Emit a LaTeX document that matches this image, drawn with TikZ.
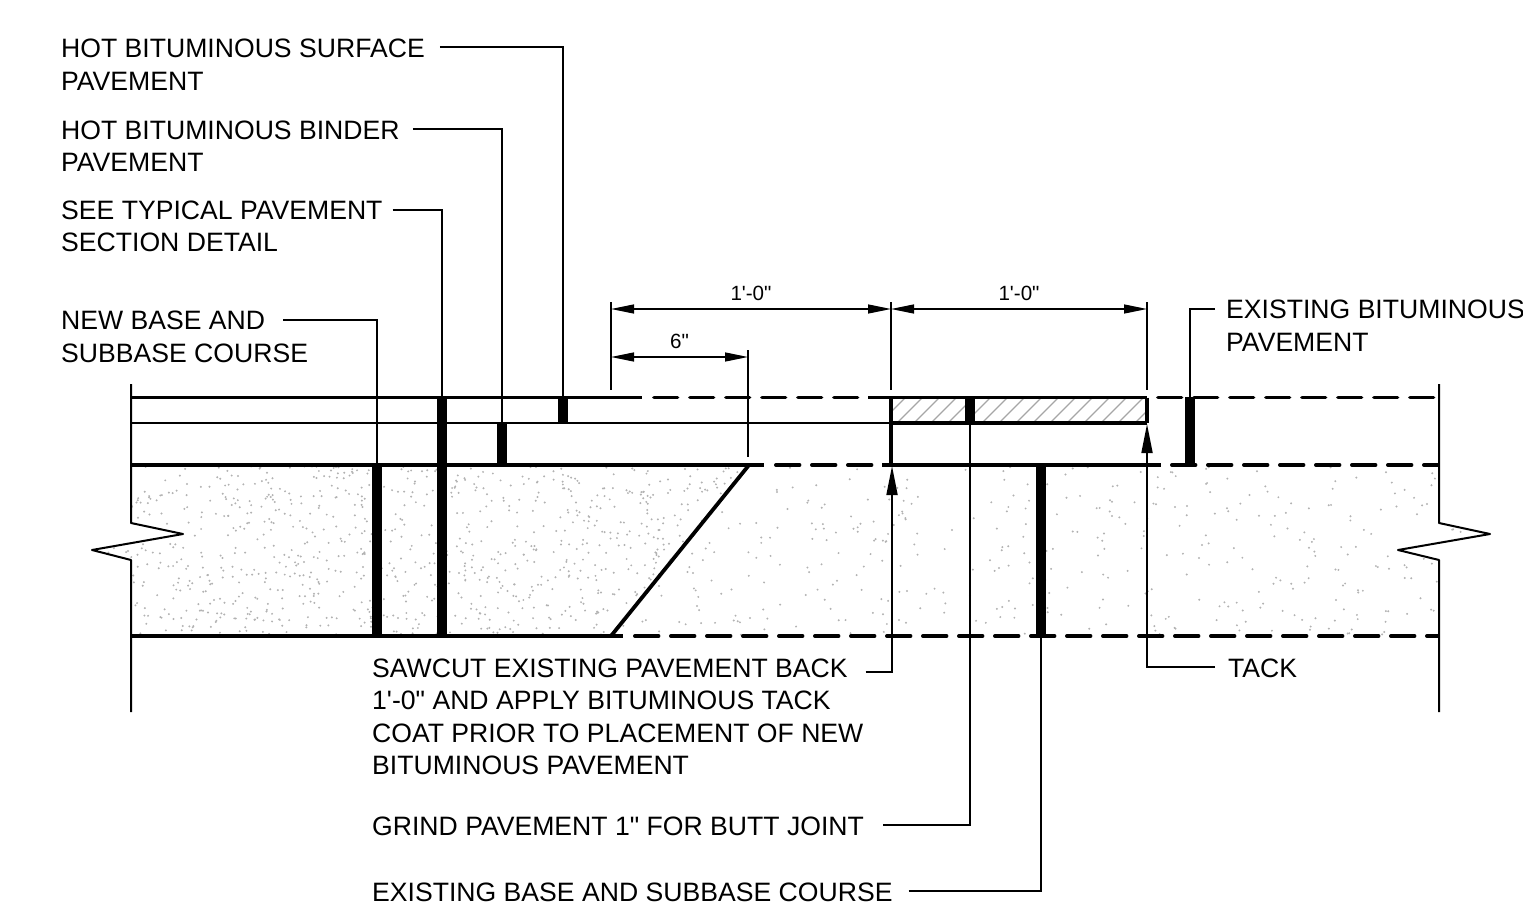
\documentclass[tikz,border=0pt]{standalone}
\usepackage{fontspec}
\setmainfont[Ligatures=TeXOff]{Liberation Sans}
\usetikzlibrary{arrows.meta}

\tikzset{
    notetext/.style={anchor=north west, inner sep=0pt, align=left, font=\fontsize{26.6}{32.5}\selectfont},
    dimtext/.style={inner sep=0pt, above=8pt, font=\fontsize{20.6}{24}\selectfont},
    leader/.style={line width=1.7pt},
    extline/.style={line width=2pt},
    breakline/.style={line width=2pt, line join=round},
    dimline/.style={line width=1.3pt, {Triangle[length=23pt,width=9pt]}-{Triangle[length=23pt,width=9pt]}},
    tackline/.style={line width=1.7pt, -{Triangle[length=29pt,width=11pt]}},
    thinrule/.style={line width=2pt},
    heavy/.style={line width=3.8pt},
    dashrule/.style={line width=3.8pt, line cap=round, dash pattern=on 23.6pt off 12.4pt},
    joint/.style={fill=black, inner sep=0pt, minimum width=10.6pt},
    speck/.style={fill=black!30},
    hatchline/.style={line width=1.2pt, black!35}
}

\begin{document}
\begin{tikzpicture}[x=1pt, y=-1pt]
    \useasboundingbox (0,0) rectangle (1523,923);

    % stone, new part
    \begin{scope}
        \clip (131,465) -- (749,465) -- (611,636) -- (131,636) -- (131,560) -- (92,550) -- (183,534) -- (131,523) -- cycle;
        \pgfmathsetseed{41}
        \foreach \i in {1,...,1100} {
            \fill[speck] ({92+rnd*657},{465+rnd*171}) circle (1.1);
        }
    \end{scope}

    % stone, existing part
    \begin{scope}
        \clip (749,465) -- (1439,465) -- (1439,523) -- (1490,534) -- (1398,550) -- (1439,560) -- (1439,636) -- (611,636) -- cycle;
        \foreach \i in {1,...,470} {
            \fill[speck] ({611+rnd*879},{465+rnd*171}) circle (1.1);
        }
    \end{scope}

    % ground off strip
    \begin{scope}
        \clip (891,397) rectangle (1147,423);
        \foreach \x in {880,897,...,1170} {
            \draw[hatchline] (\x,423) -- (\x+26,397);
        }
    \end{scope}

    % layer lines
    \draw[heavy] (131,397.5) -- (642,397.5);
    \draw[dashrule] (653.9,397.5) -- (860,397.5);
    \draw[heavy] (868,397.5) -- (1147,397.5);
    \draw[dashrule] (1157.9,397.5) -- (1438,397.5);
    \draw[thinrule] (131,423) -- (891,423);
    \draw[heavy] (891,423) -- (1147,423);
    \draw[heavy] (131,465) -- (764,465);
    \draw[dashrule] (775.9,465) -- (875,465);
    \draw[heavy] (882,465) -- (1161,465);
    \draw[dashrule] (1171.9,465) -- (1438,465);
    \draw[heavy] (131,636) -- (623,636);
    \draw[dashrule] (634.9,636) -- (1438,636);
    \draw[heavy] (891,397.5) -- (891,465);
    \draw[heavy] (1147,397.5) -- (1147,423);
    \draw[heavy] (749,465) -- (611,636);

    % broken ends
    \draw[breakline] (131,384) -- (131,523) -- (183,534) -- (92,550) -- (131,560) -- (131,712);
    \draw[breakline] (1439,384) -- (1439,523) -- (1490,534) -- (1398,550) -- (1439,560) -- (1439,712);

    % joints
    \node[joint, minimum height=171pt] (newbasejoint) at (377,550.5) {};
    \node[joint, minimum height=239pt] (sectionjoint) at (442,516.5) {};
    \node[joint, minimum height=42pt] (binderjoint) at (502,444) {};
    \node[joint, minimum height=26pt] (surfacejoint) at (563,410) {};
    \node[joint, minimum height=26pt] (grindjoint) at (970,410) {};
    \node[joint, minimum height=171pt] (existbasejoint) at (1041,550.5) {};
    \node[joint, minimum height=68pt] (existjoint) at (1190,431) {};

    % labels
    \node[notetext] (surface) at (61,39) {HOT BITUMINOUS SURFACE\\PAVEMENT};
    \node[notetext] (binder) at (61,120.5) {HOT BITUMINOUS BINDER\\PAVEMENT};
    \node[notetext] (section) at (61,200.5) {SEE TYPICAL PAVEMENT\\SECTION DETAIL};
    \node[notetext] (newbase) at (61,311) {NEW BASE AND\\SUBBASE COURSE};
    \node[notetext] (exist) at (1226,300) {EXISTING BITUMINOUS\\PAVEMENT};
    \node[notetext] (sawcut) at (372,658.5) {SAWCUT EXISTING PAVEMENT BACK\\1'-0" AND APPLY BITUMINOUS TACK\\COAT PRIOR TO PLACEMENT OF NEW\\BITUMINOUS PAVEMENT};
    \node[notetext] (tack) at (1228,658.5) {TACK};
    \node[notetext] (grind) at (372,817) {GRIND PAVEMENT 1" FOR BUTT JOINT};
    \node[notetext] (existbase) at (372,882.5) {EXISTING BASE AND SUBBASE COURSE};

    % leaders
    \draw[leader] ([xshift=15pt,yshift=-8pt]surface.north east) -| (surfacejoint.north);
    \draw[leader] ([xshift=13pt,yshift=-8.5pt]binder.north east) -| (binderjoint.north);
    \draw[leader] ([xshift=10pt,yshift=-9.5pt]section.north east) -| (sectionjoint.north);
    \draw[leader] ([xshift=-25pt,yshift=-9pt]newbase.north east) -| (newbasejoint.north);
    \draw[leader] ([xshift=-11pt,yshift=-9pt]exist.north west) -| (existjoint.north);
    \draw[leader] ([xshift=19pt,yshift=-8pt]grind.north east) -| (grindjoint.north);
    \draw[leader] ([xshift=16pt,yshift=-8.5pt]existbase.north east) -| (existbasejoint.south);

    \coordinate (sawcuttip) at (892,466);
    \coordinate (tacktip) at (1147,424);
    \draw[tackline] ([xshift=2pt,yshift=-13.5pt]sawcut.north east) -| (sawcuttip);
    \draw[tackline] ([xshift=-13pt,yshift=-8.5pt]tack.north west) -| (tacktip);

    % dimensions
    \coordinate (sawA) at (611,309);
    \coordinate (sawB) at (891,309);
    \coordinate (sawC) at (1147,309);
    \coordinate (halfA) at (611,357);
    \coordinate (halfB) at (748,357);
    \draw[extline] (611,302) -- (611,390);
    \draw[extline] (891,302) -- (891,390);
    \draw[extline] (1147,302) -- (1147,390);
    \draw[extline] (748,350) -- (748,457);
    \draw[dimline] (sawA) to node[dimtext] (dimfirst) {1'-0"} (sawB);
    \draw[dimline] (sawB) to node[dimtext] (dimsecond) {1'-0"} (sawC);
    \draw[dimline] (halfA) to node[dimtext] (dimhalf) {6"} (halfB);
\end{tikzpicture}
\end{document}
